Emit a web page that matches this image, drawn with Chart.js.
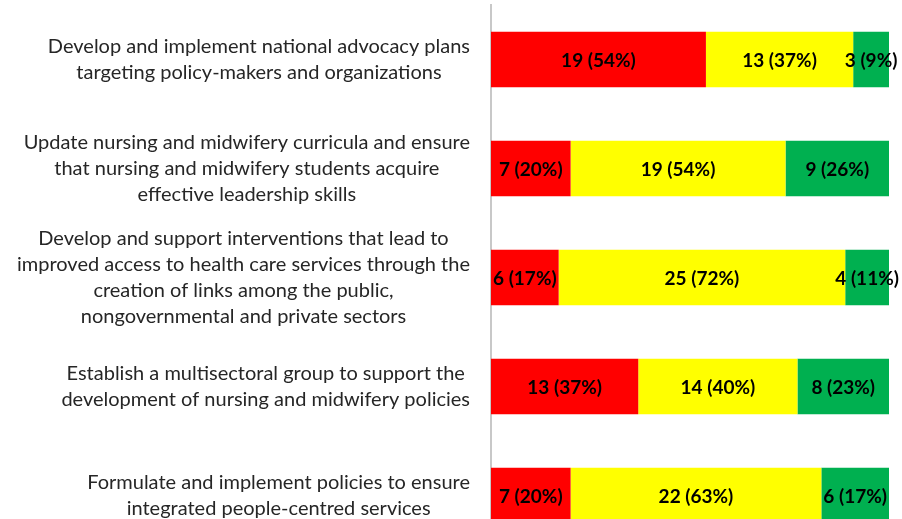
<!DOCTYPE html>
<html>
<head>
<meta charset="utf-8">
<script src="https://cdn.jsdelivr.net/npm/chart.js@4.4.0/dist/chart.umd.min.js"></script>
<style>
  html, body { margin: 0; padding: 0; background: #fff; overflow: hidden; }
  #wrap { width: 902px; height: 560px; position: relative; }
</style>
</head>
<body>
<div id="wrap"><canvas id="myChart"></canvas></div>
<script>
// category labels, already split into lines as in the original
var categories = [
  ['Develop and implement national advocacy plans', 'targeting policy-makers and organizations'],
  ['Update nursing and midwifery curricula and ensure', 'that nursing and midwifery students acquire', 'effective leadership skills'],
  ['Develop and support interventions that lead to', 'improved access to health care services through the', 'creation of links among the public,', 'nongovernmental and private sectors'],
  ['Establish a multisectoral group to support the', 'development of nursing and midwifery policies'],
  ['Formulate and implement policies to ensure', 'integrated people-centred services']
];

// counts per category
var redCounts = [19, 7, 6, 13, 7];
var yellowCounts = [13, 19, 25, 14, 22];
var greenCounts = [3, 9, 4, 8, 6];

// shares in percent (bar lengths)
var redPct = [54, 20, 17, 37, 20];
var yellowPct = [37, 54, 72, 40, 63];
var greenPct = [9, 26, 11, 23, 17];

var counts = [redCounts, yellowCounts, greenCounts];

var labelFont = '20px Lato, "Liberation Sans", sans-serif';
var valueFont = 'bold 19px Lato, "Liberation Sans", sans-serif';

// draws the wrapped category labels: lines centred, block right aligned
var categoryLabels = {
  id: 'categoryLabels',
  afterDraw: function(chart) {
    var ctx = chart.ctx;
    var yScale = chart.scales.y;
    var right = chart.chartArea.left - 21;
    ctx.save();
    ctx.font = labelFont;
    ctx.fillStyle = '#262626';
    ctx.textAlign = 'center';
    ctx.textBaseline = 'middle';
    var lh = 26;
    categories.forEach(function(lines, i) {
      var y = yScale.getPixelForValue(i);
      var maxW = 0;
      lines.forEach(function(l) { maxW = Math.max(maxW, ctx.measureText(l).width); });
      var cx = right - maxW / 2;
      var top = y - (lines.length - 1) * lh / 2;
      lines.forEach(function(l, j) {
        ctx.fillText(l, cx, top + j * lh);
      });
    });
    ctx.restore();
  }
};

// value labels "n (p%)" centred on each segment
var valueLabels = {
  id: 'valueLabels',
  afterDatasetsDraw: function(chart) {
    var ctx = chart.ctx;
    ctx.save();
    ctx.font = valueFont;
    ctx.fillStyle = '#000';
    ctx.textAlign = 'center';
    ctx.textBaseline = 'middle';
    chart.data.datasets.forEach(function(ds, d) {
      var meta = chart.getDatasetMeta(d);
      meta.data.forEach(function(bar, i) {
        var cx = (bar.x + bar.base) / 2;
        ctx.fillText(counts[d][i] + ' (' + ds.data[i] + '%)', cx, bar.y + 1);
      });
    });
    ctx.restore();
  }
};

var ctx = document.getElementById('myChart');
var myChart = new Chart(ctx, {
  type: 'bar',
  data: {
    labels: categories.map(function(c) { return c.join(' '); }),
    datasets: [
      { label: 'Red', data: redPct, backgroundColor: '#FF0000' },
      { label: 'Yellow', data: yellowPct, backgroundColor: '#FFFF00' },
      { label: 'Green', data: greenPct, backgroundColor: '#00B050' }
    ]
  },
  options: {
    indexAxis: 'y',
    responsive: true,
    maintainAspectRatio: false,
    animation: false,
    layout: { padding: { top: 5, right: 13, bottom: 10, left: 0 } },
    datasets: { bar: { categoryPercentage: 1, barPercentage: 0.51 } },
    plugins: { legend: { display: false }, tooltip: { enabled: false } },
    scales: {
      x: { stacked: true, min: 0, max: 100, display: false },
      y: {
        stacked: true,
        grid: { display: false },
        border: { display: true, color: '#C8C8C8', width: 2 },
        ticks: { display: false },
        afterFit: function(scale) { scale.width = 491; }
      }
    }
  },
  plugins: [categoryLabels, valueLabels]
});
</script>
</body>
</html>
